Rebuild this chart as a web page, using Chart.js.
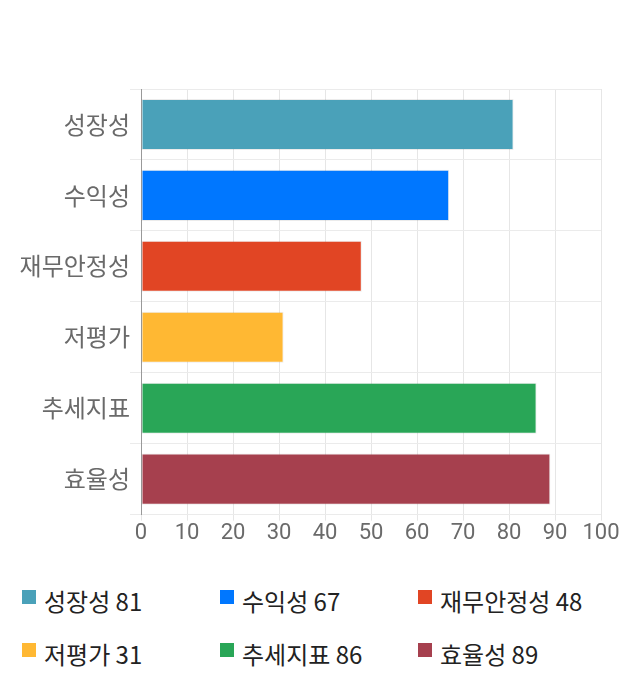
<!DOCTYPE html>
<html>
<head>
<meta charset="utf-8">
<script src="https://cdn.jsdelivr.net/npm/chart.js@4/dist/chart.umd.min.js"></script>
<style>
  body { margin: 0; background: #fff; font-family: "Noto Sans CJK KR", sans-serif; }
  #wrap { position: relative; width: 640px; height: 547px; }
  #legend { position: absolute; top: 587px; left: 22px; width: 620px; }
  .item { position: absolute; font-size: 24px; color: #222; white-space: nowrap; line-height: 28px; }
  .box { display: inline-block; width: 14px; height: 14px; vertical-align: top; margin-top: 3px; margin-right: 8px; }
</style>
</head>
<body>
<div id="wrap"><canvas id="myChart" width="640" height="547"></canvas></div>
<div id="legend"></div>
<script>
const categories = ["성장성", "수익성", "재무안정성", "저평가", "추세지표", "효율성"];
const scores = [81, 67, 48, 31, 86, 89];
const barColors = ["#4aa1b9", "#0077ff", "#e14524", "#ffb833", "#29a657", "#a6404e"];
const xTicks = [0, 10, 20, 30, 40, 50, 60, 70, 80, 90, 100];

new Chart("myChart", {
  type: "bar",
  data: {
    labels: categories,
    datasets: [{
      data: scores,
      backgroundColor: barColors,
      borderColor: "rgba(0,0,0,0.08)",
      borderWidth: 1,
      borderSkipped: false
    }]
  },
  options: {
    indexAxis: "y",
    responsive: false,
    animation: false,
    layout: { padding: { top: 89, right: 39, left: 0, bottom: 0 } },
    plugins: { legend: { display: false }, tooltip: { enabled: false } },
    scales: {
      x: {
        min: 0, max: 100,
        afterBuildTicks: function(axis) { axis.ticks = xTicks.map(v => ({ value: v })); },
        grid: { color: "#e6e6e6", tickLength: 6 },
        border: { display: false },
        ticks: { color: "#6a6a6a", font: { size: 22, family: "Roboto" }, padding: 0 }
      },
      y: {
        afterFit: function(axis) { axis.width = 141; },
        grid: { color: "#ebebeb", tickLength: 11, offset: true },
        border: { color: "#999" },
        ticks: { color: "#6a6a6a", font: { size: 24, family: "Noto Sans CJK KR" }, padding: 0 }
      }
    }
  }
});

const legend = document.getElementById("legend");
categories.forEach(function(name, i) {
  const div = document.createElement("div");
  div.className = "item";
  div.style.left = (i % 3) * 198 + "px";
  div.style.top = Math.floor(i / 3) * 53 + "px";
  div.innerHTML = '<span class="box" style="background:' + barColors[i] + '"></span>' + name + " " + scores[i];
  legend.appendChild(div);
});
</script>
</body>
</html>
